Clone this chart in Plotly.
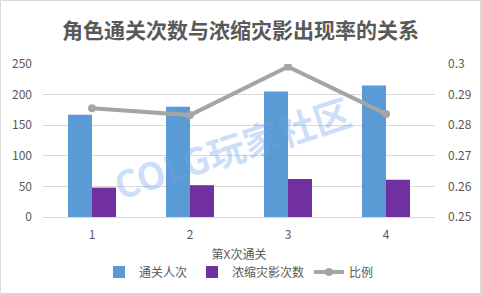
import plotly.graph_objects as go

categories = ["1", "2", "3", "4"]
clear_counts = [167, 180, 205, 215]
shadow_counts = [48, 52, 62, 61]
ratio = [0.2855, 0.2833, 0.2991, 0.2837]

FONT = "Noto Sans CJK SC, Microsoft YaHei, sans-serif"
GRAY = "#595959"

fig = go.Figure()
fig.add_trace(go.Bar(x=categories, y=clear_counts, name="通关人次",
                     marker=dict(color="#5B9BD5", line=dict(width=0))))
fig.add_trace(go.Bar(x=categories, y=shadow_counts, name="浓缩灾影次数",
                     marker=dict(color="#7030A0", line=dict(width=0))))
fig.add_trace(go.Scatter(x=categories, y=ratio, name="比例", yaxis="y2",
                         mode="lines+markers",
                         line=dict(color="#A5A5A5", width=4),
                         marker=dict(color="#A5A5A5", size=8)))

fig.update_layout(
    width=481, height=294,
    margin=dict(l=43, r=46, t=64, b=77, autoexpand=False),
    paper_bgcolor="white", plot_bgcolor="white",
    font=dict(family=FONT, size=12, color=GRAY),
    title=dict(text="<b>角色通关次数与浓缩灾影出现率的关系</b>",
               x=0.5, xanchor="center", y=1 - 31 / 294, yanchor="middle",
               font=dict(size=21, color=GRAY, family=FONT)),
    barmode="group", bargap=0.51, bargroupgap=0,
    showlegend=True,
    legend=dict(orientation="h", x=0.5, xanchor="center", y=-(272 - 217) / 153,
                yanchor="middle",
                font=dict(size=12, color=GRAY), itemwidth=30,
                traceorder="normal"),
    xaxis=dict(showgrid=False, showline=True, linecolor="#D9D9D9", linewidth=1,
               automargin=False,
               ticks="", tickfont=dict(size=12, color=GRAY), ticklabelstandoff=7,
               title=dict(text="第X次通关", font=dict(size=12, color=GRAY), standoff=9)),
    yaxis=dict(range=[0, 250], dtick=50, showgrid=True, gridcolor="#D9D9D9",
               automargin=False,
               zeroline=False, showline=False, ticks="",
               tickfont=dict(size=12, color=GRAY), ticklabelstandoff=10),
    yaxis2=dict(range=[0.25, 0.30], dtick=0.01, overlaying="y", side="right",
                automargin=False,
                showgrid=False, zeroline=False, showline=False, ticks="",
                tickfont=dict(size=12, color=GRAY), ticklabelstandoff=12),
)

fig.add_annotation(text="<b>COLG玩家社区</b>", xref="paper", yref="paper",
                   x=(232 - 43) / 392, y=(217 - 147) / 153, showarrow=False,
                   textangle=-18, font=dict(size=37, color="rgba(110,160,235,0.35)",
                                            family=FONT))

fig.add_shape(type="rect", xref="paper", yref="paper",
              x0=-42.5 / 392, x1=(392 + 45.5) / 392,
              y0=-76.5 / 153, y1=(153 + 63.5) / 153,
              line=dict(color="#D9D9D9", width=1), fillcolor="rgba(0,0,0,0)",
              layer="below")

fig.write_html("out.html")
